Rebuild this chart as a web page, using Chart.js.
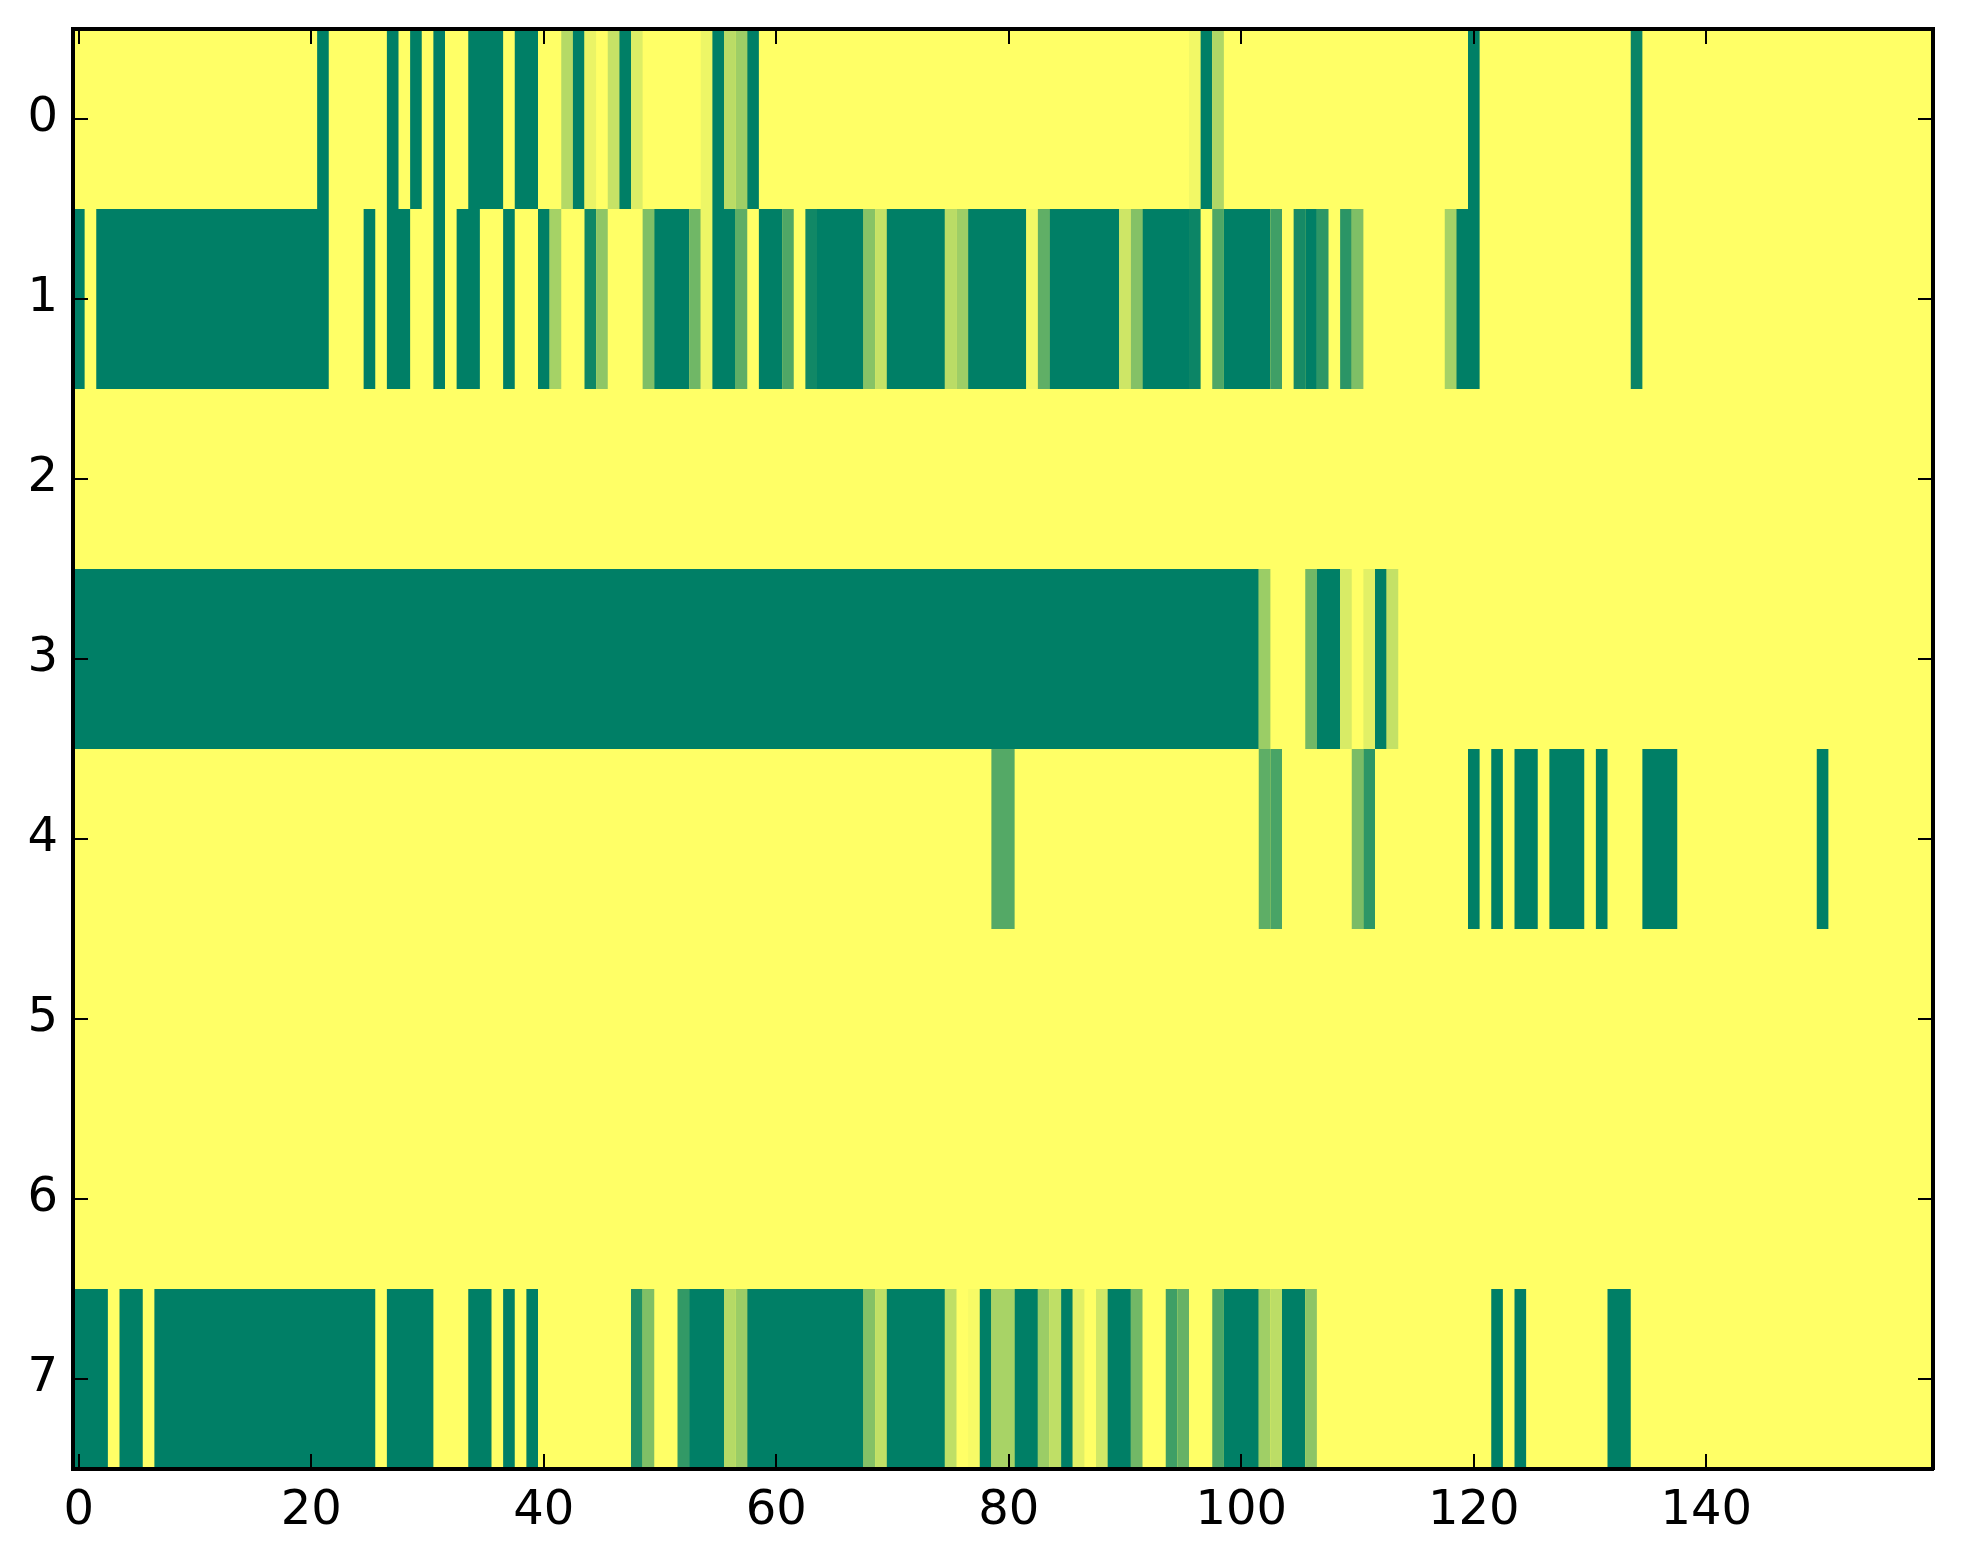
<!DOCTYPE html>
<html>
<head>
<meta charset="utf-8">
<title>Heatmap</title>
<script src="https://cdn.jsdelivr.net/npm/chart.js@4"></script>
<style>
    html, body { margin: 0; padding: 0; background: #fff; overflow: hidden; }
    canvas { display: block; }
</style>
</head>
<body>
<canvas id="heatmap" width="1963" height="1564"></canvas>
<script>
// each run is [first column, number of columns, value], anything not listed is 0
const row0 = [[21,1,1],[27,1,1],[29,1,1],[31,1,1],[34,3,1],[38,2,1],[42,1,.29],[43,1,1],[44,1,.08],[46,1,.22],[47,1,1],[48,1,.13],
    [54,1,.07],[55,1,1],[56,1,.27],[57,1,.38],[58,1,1],[96,1,.05],[97,1,1],[98,1,.31],[120,1,1],[134,1,.96]];
const row1 = [[0,1,1],[2,20,1],[25,1,1],[27,2,1],[31,1,1],[33,2,1],[37,1,1],[40,1,1],[41,1,.35],[44,1,.94],[45,1,.44],[49,1,.5],
    [50,3,1],[53,1,.56],[54,1,.07],[55,2,1],[57,1,.63],[59,2,1],[61,1,.69],[63,1,.93],[64,4,1],[68,1,.47],[69,1,.22],[70,5,1],
    [75,1,.27],[76,1,.38],[77,5,1],[82,1,.05],[83,1,.62],[84,6,1],[90,1,.19],[91,1,.48],[92,4,1],[96,1,.95],[98,1,.69],[99,4,1],
    [103,1,.75],[105,1,.91],[106,1,1],[107,1,.82],[109,1,.83],[110,1,.5],[118,1,.35],[119,2,1],[134,1,.96]];
const row2 = [];
const row3 = [[0,102,1],[102,1,.39],[106,1,.55],[107,2,1],[109,1,.15],[111,1,.11],[112,1,1],[113,1,.23]];
const row4 = [[79,2,.67],[102,1,.63],[103,1,.71],[110,1,.52],[111,1,.82],[120,1,1],[122,1,1],[124,2,1],[127,3,1],[131,1,1],[135,3,1],[150,1,1]];
const row5 = [];
const row6 = [];
const row7 = [[0,3,1],[4,2,1],[7,19,1],[27,4,1],[34,2,1],[37,1,1],[39,1,1],[48,1,.87],[49,1,.5],[52,1,.8],[53,3,1],[56,1,.29],[57,1,.39],
    [58,10,1],[68,1,.48],[69,1,.24],[70,5,1],[75,1,.25],[77,1,.03],[78,1,1],[79,2,.34],[81,2,1],[83,1,.39],[84,1,.25],[85,1,1],[86,1,.11],
    [88,1,.18],[89,2,1],[91,1,.55],[94,1,.75],[95,1,.6],[98,1,.69],[99,3,1],[102,1,.37],[103,1,.26],[104,2,1],[106,1,.45],[122,1,1],[124,1,1],[132,2,1]];

const rows = [row0, row1, row2, row3, row4, row5, row6, row7];
const columnCount = 160;
const xTicks = [0, 20, 40, 60, 80, 100, 120, 140];
const yTicks = [0, 1, 2, 3, 4, 5, 6, 7];

// matplotlib summer_r
const cmap = v => `rgb(${Math.floor(255 * (1 - v))},${Math.floor(255 * (1 - v / 2))},102)`;

const cells = [];
rows.forEach((runs, r) => runs.forEach(([start, count, value]) => {
    cells.push({ x: [start - 0.5, start + count - 0.5], y: r, value: value });
}));

const setTicks = list => scale => { scale.ticks = list.map(v => ({ value: v })); };
const setSize = (key, size) => scale => {
    scale[key] = size;
    // the big tick labels would otherwise push the plot area down
    scale.paddingTop = scale.paddingBottom = scale.paddingLeft = scale.paddingRight = 0;
};

const tickFont = { family: '"DejaVu Sans"', size: 48 };
const grid = { offset: false, drawOnChartArea: false, tickLength: -15, tickColor: '#000', lineWidth: 2, z: 2 };
const border = { display: true, color: '#000', width: 4, z: 3 };

const xBase = { type: 'linear', offset: false, min: -0.5, max: columnCount - 0.5, grid: grid, border: border, afterBuildTicks: setTicks(xTicks) };
const yBase = { type: 'linear', offset: false, reverse: true, min: -0.5, max: rows.length - 0.5, grid: grid, border: border, afterBuildTicks: setTicks(yTicks) };

new Chart(document.getElementById('heatmap'), {
    type: 'bar',
    data: {
        datasets: [
            {
                data: cells,
                backgroundColor: cells.map(c => cmap(c.value)),
                grouped: false, barPercentage: 1, categoryPercentage: 1, inflateAmount: 0, borderWidth: 0
            },
            {
                data: rows.map((_, r) => ({ x: [-0.5, columnCount - 0.5], y: r })),
                backgroundColor: cmap(0),
                grouped: false, barPercentage: 1, categoryPercentage: 1, inflateAmount: 0, borderWidth: 0
            }
        ]
    },
    options: {
        indexAxis: 'y',
        responsive: false,
        animation: false,
        layout: { autoPadding: false },
        plugins: { legend: { display: false }, tooltip: { enabled: false } },
        scales: {
            x: { ...xBase, position: 'bottom', afterFit: setSize('height', 95),
                ticks: { font: tickFont, color: '#000', padding: 29, maxRotation: 0, autoSkip: false } },
            y: { ...yBase, position: 'left', afterFit: setSize('width', 73),
                ticks: { font: tickFont, color: '#000', padding: 30, autoSkip: false } },
            x2: { ...xBase, position: 'top', afterFit: setSize('height', 29), ticks: { display: false } },
            y2: { ...yBase, position: 'right', afterFit: setSize('width', 30), ticks: { display: false } }
        }
    }
});
</script>
</body>
</html>
